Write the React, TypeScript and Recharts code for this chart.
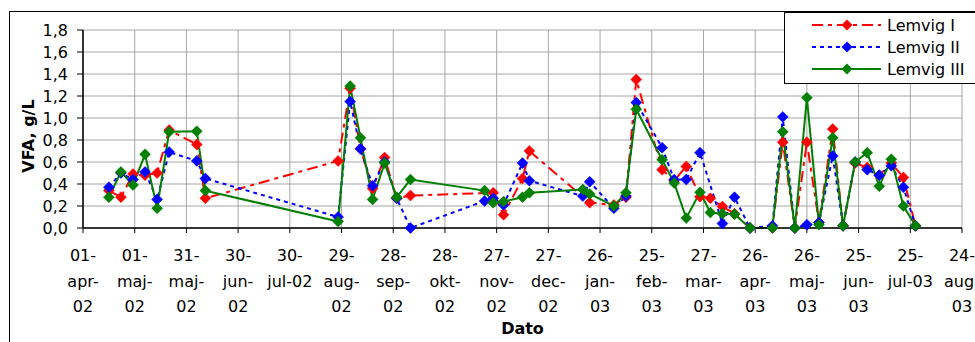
import React from 'react';
import { LineChart, Line, XAxis, YAxis, CartesianGrid } from 'recharts';

const seriesNames = ['Lemvig I', 'Lemvig II', 'Lemvig III'];
const seriesColors = ['#ff0000', '#0000ff', '#008000'];
const seriesDash = ['11 5 4 5', '4 4', undefined];

const sampleDates = [
  '2002-04-16', '2002-04-23', '2002-04-30', '2002-05-07', '2002-05-14', '2002-05-21', '2002-06-06', '2002-06-11',
  '2002-08-27', '2002-09-03', '2002-09-09', '2002-09-16', '2002-09-23', '2002-09-30', '2002-10-08',
  '2002-11-20', '2002-11-25', '2002-12-01', '2002-12-12', '2002-12-16',
  '2003-01-16', '2003-01-20', '2003-02-03', '2003-02-10', '2003-02-16',
  '2003-03-03', '2003-03-10', '2003-03-17', '2003-03-25', '2003-03-31', '2003-04-07', '2003-04-14', '2003-04-23',
  '2003-05-06', '2003-05-12', '2003-05-19', '2003-05-26', '2003-06-02', '2003-06-10', '2003-06-16', '2003-06-23',
  '2003-06-30', '2003-07-07', '2003-07-14', '2003-07-21', '2003-07-28',
];

const lemvigI = [
  0.34, 0.28, 0.49, 0.48, 0.50, 0.89, 0.76, 0.27,
  0.61, 1.27, 0.72, 0.36, 0.64, 0.27, 0.295,
  null, 0.32, 0.12, 0.45, 0.70,
  null, 0.23, 0.21, 0.28, 1.35,
  0.53, 0.43, 0.56, 0.285, 0.27, 0.195, 0.13, 0.0,
  0.0, 0.78, 0.0, 0.78, 0.05, 0.90, 0.02, 0.59,
  0.55, 0.48, 0.59, 0.46, 0.02,
];

const lemvigII = [
  0.37, 0.50, 0.44, 0.51, 0.26, 0.69, 0.61, 0.45,
  0.10, 1.15, 0.72, 0.385, 0.60, 0.27, 0.0,
  0.245, 0.27, 0.21, 0.59, 0.43,
  0.29, 0.42, 0.18, 0.29, 1.14,
  0.73, 0.44, 0.44, 0.685, null, 0.04, 0.28, 0.0,
  0.02, 1.01, 0.0, 0.03, 0.05, 0.655, 0.02, 0.60,
  0.53, 0.48, 0.565, 0.37, 0.02,
];

const lemvigIII = [
  0.28, 0.51, 0.39, 0.67, 0.18, 0.875, 0.88, 0.34,
  0.06, 1.29, 0.82, 0.26, 0.59, 0.28, 0.44,
  0.34, 0.23, 0.24, 0.28, 0.32,
  0.35, 0.31, 0.20, 0.32, 1.08,
  0.62, 0.41, 0.09, 0.325, 0.14, 0.13, 0.125, 0.0,
  0.0, 0.875, 0.0, 1.185, 0.03, 0.82, 0.02, 0.60,
  0.685, 0.38, 0.625, 0.20, 0.02,
];

const tickDates = [
  '2002-04-01', '2002-05-01', '2002-05-31', '2002-06-30', '2002-07-30', '2002-08-29', '2002-09-28', '2002-10-28',
  '2002-11-27', '2002-12-27', '2003-01-26', '2003-02-25', '2003-03-27', '2003-04-26', '2003-05-26', '2003-06-25',
  '2003-07-25', '2003-08-24',
];
const tickLabels = [
  '01-\napr-\n02', '01-\nmaj-\n02', '31-\nmaj-\n02', '30-\njun-\n02', '30-\njul-02', '29-\naug-\n02',
  '28-\nsep-\n02', '28-\nokt-\n02', '27-\nnov-\n02', '27-\ndec-\n02', '26-\njan-\n03', '25-\nfeb-\n03',
  '27-\nmar-\n03', '26-\napr-\n03', '26-\nmaj-\n03', '25-\njun-\n03', '25-\njul-03', '24-\naug-\n03',
];
const yTicks = [0, 0.2, 0.4, 0.6, 0.8, 1.0, 1.2, 1.4, 1.6, 1.8];

const BASE = Date.UTC(2002, 3, 1);
const dayOf = (s: string) => {
  const [y, m, d] = s.split('-').map(Number);
  return Math.round((Date.UTC(y, m - 1, d) - BASE) / 86400000);
};
const xTicks = tickDates.map(dayOf);
const labelByDay: Record<number, string> = {};
xTicks.forEach((t, i) => { labelByDay[t] = tickLabels[i]; });

const build = (vals: (number | null)[]) =>
  sampleDates
    .map((d, i) => ({ t: dayOf(d), v: vals[i] }))
    .filter((p) => p.v !== null);

const seriesData = [build(lemvigI), build(lemvigII), build(lemvigIII)];

const FONT = "'DejaVu Sans', sans-serif";

const makeDiamond = (color: string) => (props: any) => {
  const { cx, cy, index } = props;
  if (cx == null || cy == null) return <g key={index} />;
  const r = 5.5;
  return (
    <path
      key={index}
      d={`M${cx},${cy - r}L${cx + r},${cy}L${cx},${cy + r}L${cx - r},${cy}Z`}
      fill={color}
      stroke={color}
      strokeWidth={0.5}
    />
  );
};

const XTick = (props: any) => {
  const { x, y, payload } = props;
  const lines = (labelByDay[payload.value] || '').split('\n');
  return (
    <g transform={`translate(${x},${y})`}>
      <text textAnchor="middle" fill="#000" fontSize={16} fontFamily={FONT}>
        {lines.map((l: string, i: number) => (
          <tspan key={i} x={0} y={28 + i * 25.5}>{l}</tspan>
        ))}
      </text>
    </g>
  );
};

const YTitle = (props: any) => {
  const vb = props.viewBox;
  const cx = vb.x + 18;
  const cy = vb.y + vb.height / 2 + 7;
  return (
    <text x={cx} y={cy} transform={`rotate(-90 ${cx} ${cy})`} textAnchor="middle" dominantBaseline="central"
      fontSize={16} fontWeight="bold" fontFamily={FONT} fill="#000">VFA, g/L</text>
  );
};

const XTitle = (props: any) => {
  const vb = props.viewBox;
  return (
    <text x={vb.x + vb.width / 2} y={vb.y + 106} textAnchor="middle"
      fontSize={16} fontWeight="bold" fontFamily={FONT} fill="#000">Dato</text>
  );
};

const LegendBox = () => (
  <svg width={192} height={72} style={{ position: 'absolute', left: 774, top: 0 }}>
    <rect x={0.5} y={0.5} width={195} height={71} fill="#fff" stroke="#000" strokeWidth={1} />
    {seriesNames.map((n, i) => {
      const cy = 13 + i * 22;
      const r = 5.5;
      return (
        <g key={n}>
          <line x1={28} x2={97} y1={cy} y2={cy} stroke={seriesColors[i]} strokeWidth={2} strokeDasharray={seriesDash[i]} />
          <path d={`M63,${cy - r}L${63 + r},${cy}L63,${cy + r}L${63 - r},${cy}Z`} fill={seriesColors[i]} />
          <text x={103} y={cy} dominantBaseline="central" fontSize={16} fontFamily={FONT} fill="#000">{n}</text>
        </g>
      );
    })}
  </svg>
);

export default function App() {
  return (
    <div
      style={{
        position: 'absolute', left: 9, top: 11, width: 965, height: 330,
        borderLeft: '1px solid #000', borderTop: '1px solid #000', overflow: 'hidden',
        background: '#fff', fontFamily: FONT,
      }}
    >
      <LineChart width={965} height={330} margin={{ top: 18, right: 13, left: 0, bottom: 0 }}>
        <CartesianGrid stroke="#a6a6a6" strokeWidth={1} />
        <XAxis
          type="number"
          dataKey="t"
          domain={[0, 510]}
          ticks={xTicks}
          interval={0}
          allowDataOverflow
          height={114}
          tick={<XTick />}
          tickSize={5}
          tickMargin={0}
          axisLine={{ stroke: '#000', strokeWidth: 1.5 }}
          tickLine={{ stroke: '#000' }}
          label={<XTitle />}
        />
        <YAxis
          type="number"
          domain={[0, 1.8]}
          ticks={yTicks}
          interval={0}
          width={73}
          tickSize={6}
          tickMargin={9}
          tickFormatter={(v: number) => v.toFixed(1).replace('.', ',')}
          tick={{ fill: '#000', fontSize: 16, fontFamily: FONT }}
          axisLine={{ stroke: '#000', strokeWidth: 1.5 }}
          tickLine={{ stroke: '#000' }}
          label={<YTitle />}
        />
        {seriesData.map((d, i) => (
          <Line
            key={seriesNames[i]}
            data={d}
            dataKey="v"
            name={seriesNames[i]}
            type="linear"
            stroke={seriesColors[i]}
            strokeWidth={2}
            strokeDasharray={seriesDash[i]}
            dot={makeDiamond(seriesColors[i])}
            activeDot={false}
            isAnimationActive={false}
          />
        ))}
      </LineChart>
      <LegendBox />
    </div>
  );
}
